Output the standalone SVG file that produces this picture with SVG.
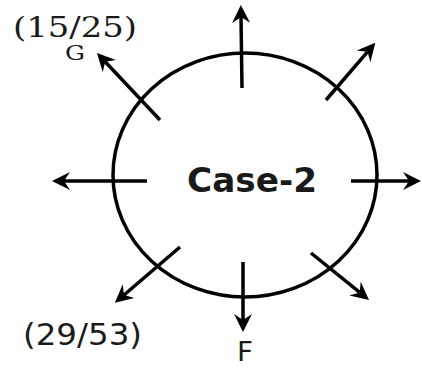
<svg xmlns="http://www.w3.org/2000/svg" width="422" height="368" viewBox="0 0 422 368">
<style>
.ln{stroke:#000;stroke-width:3.5;fill:none;marker-end:url(#ah)}
.serif{font-family:"DejaVu Serif","Liberation Serif",serif;fill:#1a1a1a}
.sans{font-family:"DejaVu Sans","Liberation Sans",sans-serif;fill:#1a1a1a}
</style>
<defs>
<marker id="ah" markerUnits="userSpaceOnUse" viewBox="0 -10 19 20" refX="6" refY="0" markerWidth="19" markerHeight="20" orient="auto">
<path d="M0,-9 L18,0 L0,9 L6,0 Z" fill="#000"/>
</marker>
</defs>
<rect width="422" height="368" fill="#fff"/>
<g id="circle">
<ellipse cx="245" cy="175" rx="132" ry="122" fill="none" stroke="#000" stroke-width="3.5"/>
<text class="sans" x="187" y="192" font-size="34" font-weight="bold" textLength="130" lengthAdjust="spacingAndGlyphs">Case-2</text>
</g>
<g id="connectors">
<line class="ln" x1="242" y1="88" x2="241" y2="17"/>
<line class="ln" x1="326" y1="100" x2="367.5" y2="51.8"/>
<line class="ln" x1="351" y1="181" x2="409" y2="181"/>
<line class="ln" x1="311" y1="253" x2="359.7" y2="292.4"/>
<line class="ln" x1="243" y1="262" x2="243" y2="320"/>
<line class="ln" x1="180" y1="247" x2="124" y2="295"/>
<line class="ln" x1="147" y1="181" x2="64" y2="181"/>
<line class="ln" x1="160" y1="120" x2="105.2" y2="61.7"/>
</g>
<g id="label-15-25">
<text class="serif" x="13" y="37" font-size="27" textLength="124" lengthAdjust="spacingAndGlyphs">(15/25)</text>
</g>
<g id="label-G">
<text class="serif" x="65" y="60" font-size="21" textLength="20" lengthAdjust="spacingAndGlyphs">G</text>
</g>
<g id="label-29-53">
<text class="sans" x="23" y="345" font-size="31" textLength="119" lengthAdjust="spacingAndGlyphs">(29/53)</text>
</g>
<g id="label-F">
<text class="sans" x="237" y="361" font-size="27" textLength="16" lengthAdjust="spacingAndGlyphs">F</text>
</g>
</svg>
